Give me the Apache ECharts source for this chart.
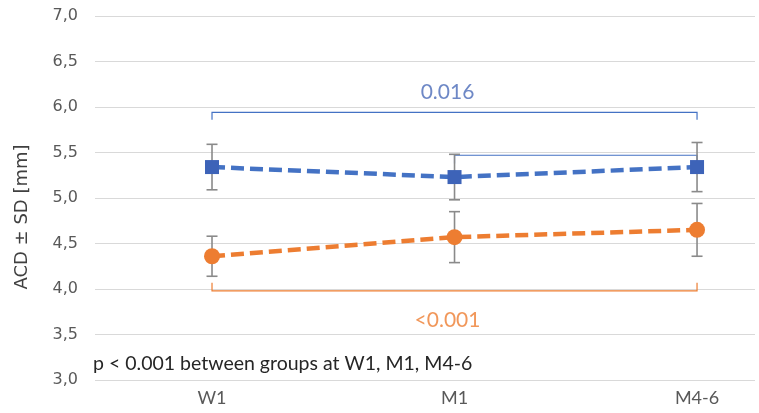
<!DOCTYPE html>
<html><head><meta charset="utf-8">
<script src="https://cdn.jsdelivr.net/npm/echarts@6/dist/echarts.min.js"></script>
<style>html,body{margin:0;padding:0;background:#fff}#c{width:759px;height:413px}</style>
</head><body><div id="c"></div>
<script>
var categories = ['W1', 'M1', 'M4-6'];
var yTicks = [3.0, 3.5, 4.0, 4.5, 5.0, 5.5, 6.0, 6.5, 7.0];
var blueMean = [5.34, 5.23, 5.34];
var blueSD = [0.25, 0.25, 0.27];
var orangeMean = [4.36, 4.57, 4.65];
var orangeSD = [0.22, 0.28, 0.29];
// brackets: [fromIndex, toIndex, level, tickEnd]
var blueBrackets = [[0, 2, 5.94, 5.86], [1, 2, 5.47, 5.38]];
var orangeBrackets = [[0, 2, 3.98, 4.07]];
var pLabels = [[1, 6.16, '0.016'], [1, 3.66, '<0.001']];
var yName = 'ACD ± SD [mm]';
var note = 'p < 0.001 between groups at W1, M1, M4-6';

var BLUE = '#4472c4', ORANGE = '#ed7d31', GREY = '#8a8a8a';

function pts(arr){ return arr.map(function(v,i){ return [i, v]; }); }
function errData(m, s){ return m.map(function(v,i){ return [i, v - s[i], v + s[i]]; }); }

function errRender(params, api){
  var lo = api.coord([api.value(0), api.value(1)]);
  var hi = api.coord([api.value(0), api.value(2)]);
  var w = 5.5;
  var st = {stroke: GREY, lineWidth: 1.6};
  return {type: 'group', children: [
    {type: 'line', shape: {x1: lo[0], y1: lo[1], x2: hi[0], y2: hi[1]}, style: st},
    {type: 'line', shape: {x1: lo[0]-w, y1: lo[1], x2: lo[0]+w, y2: lo[1]}, style: st},
    {type: 'line', shape: {x1: hi[0]-w, y1: hi[1], x2: hi[0]+w, y2: hi[1]}, style: st}
  ]};
}

function bracketRender(color){
  return function(params, api){
    var a = api.coord([api.value(0), api.value(2)]);
    var b = api.coord([api.value(1), api.value(2)]);
    var t = api.coord([api.value(0), api.value(3)]);
    var st = {stroke: color, lineWidth: 1.2, fill: null};
    return {type: 'polyline', shape: {points: [[a[0], t[1]], [a[0], a[1]], [b[0], b[1]], [b[0], t[1]]]}, style: st};
  };
}

var chart = echarts.init(document.getElementById('c'));
chart.setOption({
  animation: false,
  grid: {left: 95, right: 4, top: 16, bottom: 33},
  xAxis: {
    type: 'value', min: -0.4825, max: 2.239,
    axisLine: {show: false}, axisTick: {show: false}, splitLine: {show: false},
    axisLabel: {customValues: [0, 1, 2], formatter: function(v){ return categories[Math.round(v)] || ''; },
      color: '#595959', fontFamily: 'Lato', fontSize: 18, margin: 9}
  },
  yAxis: {
    type: 'value', min: 3, max: 7, interval: 0.5,
    axisLine: {show: false}, axisTick: {show: false},
    splitLine: {lineStyle: {color: '#d9d9d9', width: 1}},
    axisLabel: {color: '#595959', fontFamily: 'DejaVu Sans', fontSize: 16, margin: 17,
      formatter: function(v){ return v.toFixed(1).replace('.', ','); }}
  },
  graphic: [
    {type: 'text', x: 22.5, y: 217, rotation: Math.PI / 2,
      style: {text: yName, fill: '#404040', font: '18px "DejaVu Sans"', align: 'center', verticalAlign: 'middle'}},
    {type: 'text', x: 93, y: 364,
      style: {text: note, fill: '#262626', font: '19.5px Lato', align: 'left', verticalAlign: 'middle'}}
  ],
  series: [
    {type: 'custom', renderItem: bracketRender(BLUE), data: blueBrackets, z: 1, silent: true},
    {type: 'custom', renderItem: bracketRender(ORANGE), data: orangeBrackets, z: 1, silent: true},
    {type: 'custom', renderItem: errRender, data: errData(blueMean, blueSD), z: 2, silent: true},
    {type: 'custom', renderItem: errRender, data: errData(orangeMean, orangeSD), z: 2, silent: true},
    {type: 'line', data: pts(blueMean), symbol: 'rect', symbolSize: 14, z: 3,
      lineStyle: {color: BLUE, width: 4.5, type: [13, 6]}, itemStyle: {color: '#3d63b8'}},
    {type: 'line', data: pts(orangeMean), symbol: 'circle', symbolSize: 16, z: 3,
      lineStyle: {color: ORANGE, width: 4.5, type: [13, 6]}, itemStyle: {color: ORANGE}},
    {type: 'scatter', symbolSize: 1, silent: true, itemStyle: {color: 'rgba(0,0,0,0)'},
      data: [
        {value: pLabels[0], label: {color: '#4a6ab8'}},
        {value: pLabels[1], label: {color: ORANGE}}
      ],
      label: {show: true, position: 'inside', offset: [-7, 0], fontFamily: 'Lato', fontSize: 21,
        formatter: function(p){ return p.value[2]; }}
    }
  ]
});
</script></body></html>
